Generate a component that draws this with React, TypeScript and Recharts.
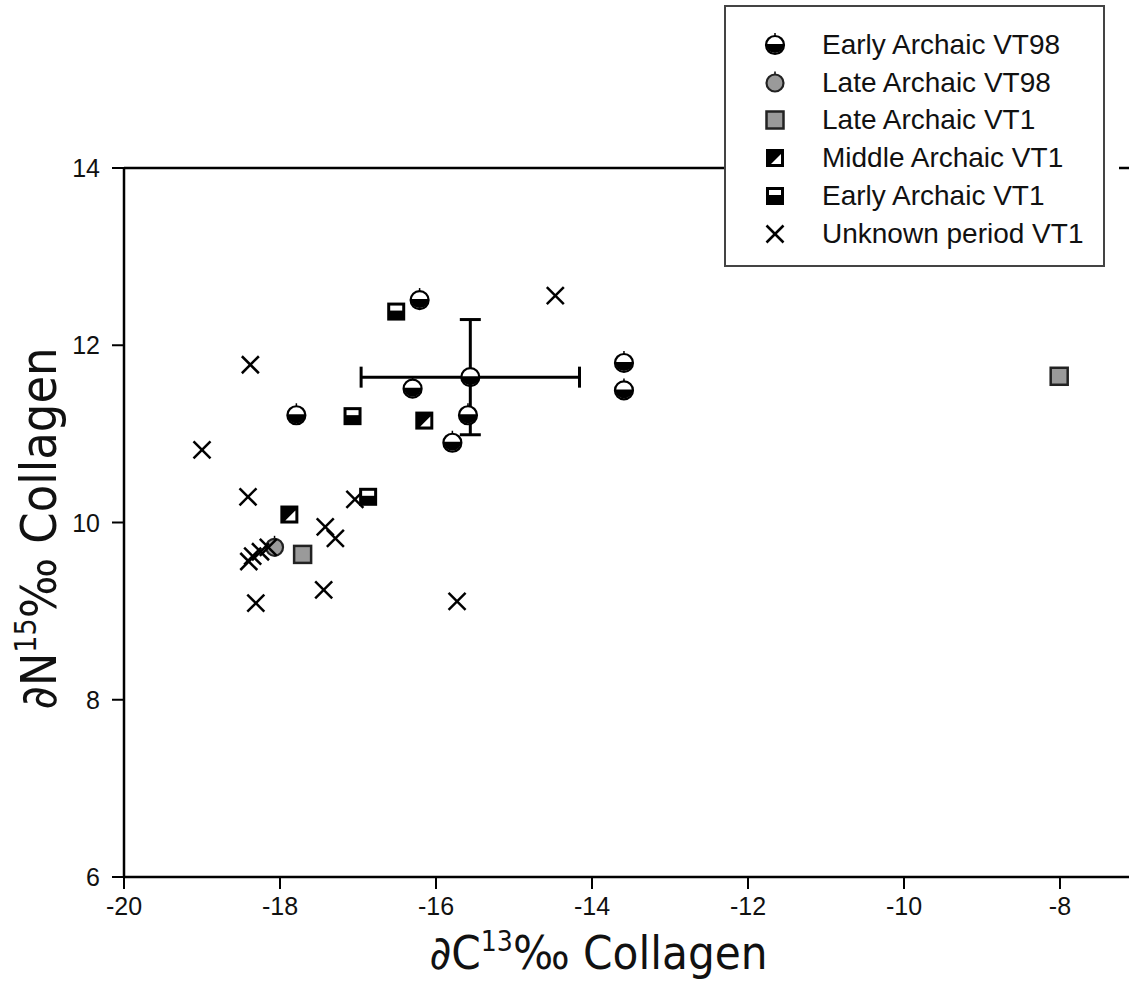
import {
  ScatterChart,
  Scatter,
  XAxis,
  YAxis,
  ErrorBar,
  Legend,
  ReferenceLine,
  Label,
} from 'recharts'

type Pt = { x: number; y: number }

// δ13C / δ15N collagen values
const earlyArchaicVT98: Pt[] = [
  { x: -16.21, y: 12.51 },
  { x: -17.79, y: 11.21 },
  { x: -16.3, y: 11.51 },
  { x: -15.59, y: 11.21 },
  { x: -15.79, y: 10.9 },
  { x: -13.59, y: 11.8 },
  { x: -13.59, y: 11.49 },
]
const lateArchaicVT98: Pt[] = [{ x: -18.07, y: 9.72 }]
const lateArchaicVT1: Pt[] = [
  { x: -17.71, y: 9.64 },
  { x: -8.01, y: 11.65 },
]
const middleArchaicVT1: Pt[] = [
  { x: -17.88, y: 10.09 },
  { x: -16.15, y: 11.15 },
]
const earlyArchaicVT1: Pt[] = [
  { x: -16.51, y: 12.38 },
  { x: -17.07, y: 11.2 },
  { x: -16.87, y: 10.29 },
]
const unknownVT1: Pt[] = [
  { x: -18.38, y: 11.78 },
  { x: -19.0, y: 10.82 },
  { x: -14.47, y: 12.56 },
  { x: -18.41, y: 10.29 },
  { x: -17.04, y: 10.26 },
  { x: -17.42, y: 9.95 },
  { x: -17.29, y: 9.82 },
  { x: -18.15, y: 9.72 },
  { x: -18.25, y: 9.67 },
  { x: -18.35, y: 9.62 },
  { x: -18.4, y: 9.56 },
  { x: -17.44, y: 9.24 },
  { x: -18.31, y: 9.09 },
  { x: -15.73, y: 9.11 },
]
// mean ± SD of the Early Archaic VT98 group
const meanPoint = [{ x: -15.56, y: 11.64, xErr: 1.4, yErr: 0.65 }]

const xTicks = [-20, -18, -16, -14, -12, -10, -8]
const yTicks = [6, 8, 10, 12, 14]

const SANS = '"Liberation Sans", Arial, Helvetica, sans-serif'
const NARROW = '"Liberation Sans Narrow", "Arial Narrow", "DejaVu Sans Condensed", "Liberation Sans", sans-serif'

type ShapeProps = { cx?: number; cy?: number }

function HalfCircle({ cx = 0, cy = 0 }: ShapeProps) {
  const r = 9
  return (
    <g>
      <line x1={cx} y1={cy - r} x2={cx} y2={cy - r - 3} stroke="#000" strokeWidth={1.5} />
      <circle cx={cx} cy={cy} r={r} fill="#fff" stroke="#000" strokeWidth={2.2} />
      <path d={`M ${cx - r} ${cy - 1} A ${r} ${r} 0 0 0 ${cx + r} ${cy - 1} Z`} fill="#000" />
    </g>
  )
}

function GrayCircle({ cx = 0, cy = 0 }: ShapeProps) {
  const r = 8.5
  return (
    <g>
      <line x1={cx} y1={cy - r} x2={cx} y2={cy - r - 3} stroke="#000" strokeWidth={1.5} />
      <circle cx={cx} cy={cy} r={r} fill="#9a9a9a" stroke="#222" strokeWidth={2.2} />
    </g>
  )
}

function GraySquare({ cx = 0, cy = 0 }: ShapeProps) {
  return <rect x={cx - 8.5} y={cy - 8.5} width={17} height={17} fill="#9a9a9a" stroke="#222" strokeWidth={2.5} />
}

function DiagSquare({ cx = 0, cy = 0 }: ShapeProps) {
  return (
    <g>
      <rect x={cx - 9} y={cy - 9} width={18} height={18} fill="#000" />
      <polygon points={`${cx + 6},${cy - 4} ${cx + 6},${cy + 6} ${cx - 4},${cy + 6}`} fill="#fff" />
    </g>
  )
}

function TopSquare({ cx = 0, cy = 0 }: ShapeProps) {
  return (
    <g>
      <rect x={cx - 9} y={cy - 9} width={18} height={18} fill="#000" />
      <rect x={cx - 6} y={cy - 6} width={12} height={5} fill="#fff" />
    </g>
  )
}

function Cross({ cx = 0, cy = 0 }: ShapeProps) {
  const s = 8.5
  return (
    <g stroke="#000" strokeWidth={2.5}>
      <line x1={cx - s} y1={cy - s} x2={cx + s} y2={cy + s} />
      <line x1={cx - s} y1={cy + s} x2={cx + s} y2={cy - s} />
    </g>
  )
}

const legendRows = [
  { name: 'Early Archaic VT98', Shape: HalfCircle },
  { name: 'Late Archaic VT98', Shape: GrayCircle },
  { name: 'Late Archaic VT1', Shape: GraySquare },
  { name: 'Middle Archaic VT1', Shape: DiagSquare },
  { name: 'Early Archaic VT1', Shape: TopSquare },
  { name: 'Unknown period VT1', Shape: Cross },
]

function LegendBox() {
  return (
    <div style={{ background: '#fff', paddingRight: 14 }}>
      <div
        style={{
          width: 381,
          height: 262,
          border: '2px solid #444',
          background: '#fff',
          paddingTop: 19,
          boxSizing: 'border-box',
          fontFamily: SANS,
          fontSize: 28,
          color: '#111',
        }}
      >
        {legendRows.map(({ name, Shape }) => (
          <div key={name} style={{ display: 'flex', alignItems: 'center', height: 37.8 }}>
            <svg width={96} height={30} style={{ flex: 'none' }}>
              <Shape cx={49} cy={15} />
            </svg>
            <span style={{ whiteSpace: 'nowrap', lineHeight: '30px' }}>{name}</span>
          </div>
        ))}
      </div>
    </div>
  )
}

function XTick({ x, y, payload }: any) {
  return (
    <text x={x} y={y} dy={26} textAnchor="middle" fontFamily={SANS} fontSize={25} fill="#111">
      {payload.value}
    </text>
  )
}

function YTick({ x, y, payload }: any) {
  return (
    <text x={x} y={y} dy={9} textAnchor="end" fontFamily={SANS} fontSize={25} fill="#111">
      {payload.value}
    </text>
  )
}

function XTitle({ viewBox }: any) {
  const cx = viewBox.x + viewBox.width / 2 - 28
  return (
    <text x={cx} y={969} textAnchor="middle" fontFamily={NARROW} fontSize={47} fill="#111">
      ∂C
      <tspan fontSize={28} dy={-18}>13</tspan>
      <tspan dy={18}>‰ Collagen</tspan>
    </text>
  )
}

function YTitle({ viewBox }: any) {
  const cy = viewBox.y + viewBox.height / 2 + 6
  return (
    <text
      x={0}
      y={0}
      transform={`translate(56, ${cy}) rotate(-90)`}
      textAnchor="middle"
      fontFamily={NARROW}
      fontSize={50}
      fill="#111"
    >
      ∂N
      <tspan fontSize={30} dy={-20}>15</tspan>
      <tspan dy={20}>‰ Collagen</tspan>
    </text>
  )
}

export default function App() {
  return (
    <div style={{ position: 'absolute', left: 0, top: 0, width: 1129, height: 995, background: '#fff' }}>
      <ScatterChart width={1129} height={995} margin={{ top: 168, right: 0, bottom: 0, left: 0 }}>
        <XAxis
          type="number"
          dataKey="x"
          domain={[-20, -7.115]}
          allowDataOverflow
          ticks={xTicks}
          height={118}
          tick={<XTick />}
          tickSize={12}
          tickMargin={0}
          axisLine={{ stroke: '#000', strokeWidth: 2.5 }}
          tickLine={{ stroke: '#000', strokeWidth: 2 }}
        >
          <Label content={(p: any) => <XTitle viewBox={p.viewBox} />} />
        </XAxis>
        <YAxis
          type="number"
          dataKey="y"
          domain={[6, 14]}
          allowDataOverflow
          ticks={yTicks}
          width={124}
          tick={<YTick />}
          tickSize={12}
          tickMargin={12}
          axisLine={{ stroke: '#000', strokeWidth: 2.5 }}
          tickLine={{ stroke: '#000', strokeWidth: 2 }}
        >
          <Label content={(p: any) => <YTitle viewBox={p.viewBox} />} />
        </YAxis>
        <ReferenceLine y={14} stroke="#000" strokeWidth={2.5} />
        <Scatter name="mean" data={meanPoint} shape={HalfCircle} legendType="none" isAnimationActive={false}>
          <ErrorBar dataKey="xErr" direction="x" width={10.5} stroke="#000" strokeWidth={3} isAnimationActive={false} />
          <ErrorBar dataKey="yErr" direction="y" width={10.5} stroke="#000" strokeWidth={3} isAnimationActive={false} />
        </Scatter>
        <Scatter name="Early Archaic VT98" data={earlyArchaicVT98} shape={HalfCircle} isAnimationActive={false} />
        <Scatter name="Late Archaic VT98" data={lateArchaicVT98} shape={GrayCircle} isAnimationActive={false} />
        <Scatter name="Unknown period VT1" data={unknownVT1} shape={Cross} isAnimationActive={false} />
        <Scatter name="Late Archaic VT1" data={lateArchaicVT1} shape={GraySquare} isAnimationActive={false} />
        <Scatter name="Middle Archaic VT1" data={middleArchaicVT1} shape={DiagSquare} isAnimationActive={false} />
        <Scatter name="Early Archaic VT1" data={earlyArchaicVT1} shape={TopSquare} isAnimationActive={false} />
        <Legend
          layout="vertical"
          align="center"
          verticalAlign="middle"
          content={() => <LegendBox />}
          wrapperStyle={{ left: 724, top: 5, width: 395, height: 265 }}
        />
      </ScatterChart>
    </div>
  )
}
